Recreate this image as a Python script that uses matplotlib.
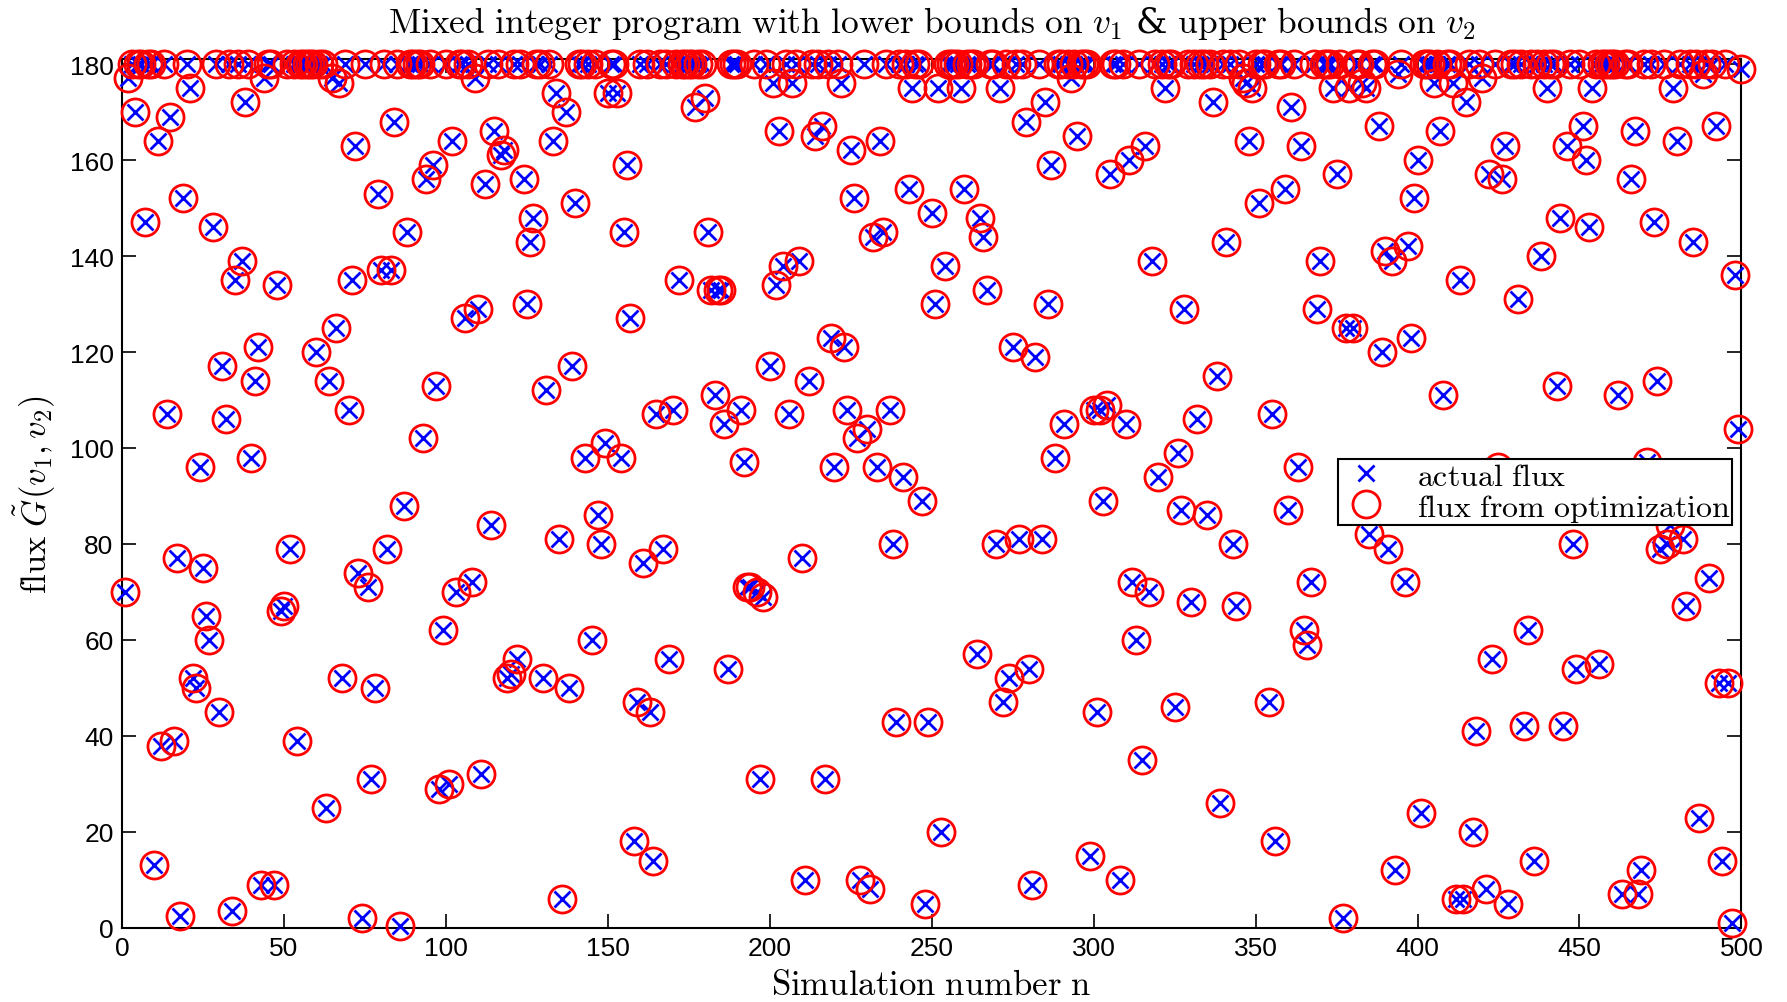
import matplotlib
matplotlib.use("Agg")
import matplotlib.pyplot as plt
import numpy as np

plt.rcParams['mathtext.fontset'] = 'cm'

# Simulation numbers 1..500 and flux values
sim_n = list(range(1, 501))
flux_actual = [
    70, 177, 180, 170, 180, 180, 147, 180, 180, 13,
    164, 38, 180, 107, 169, 39, 77, 2.5, 152, 180,
    175, 52, 50, 96, 75, 65, 60, 146, 180, 45,
    117, 106, 180, 3.5, 135, 180, 139, 172, 180, 98,
    114, 121, 9, 177, 180, 180, 9, 134, 66, 67,
    180, 79, 180, 39, 180, 180, 180, 180, 180, 120,
    180, 180, 25, 114, 177, 125, 176, 52, 180, 108,
    135, 163, 74, 2, 180, 71, 31, 50, 153, 137,
    180, 79, 137, 168, 180, 0.3, 88, 145, 180, 180,
    180, 180, 102, 156, 180, 159, 113, 29, 62, 180,
    30, 164, 70, 180, 180, 127, 180, 72, 177, 129,
    32, 155, 180, 84, 166, 180, 161, 162, 52, 53,
    180, 56, 180, 156, 130, 143, 148, 180, 180, 52,
    112, 180, 164, 174, 81, 6, 170, 50, 117, 151,
    180, 180, 98, 180, 60, 180, 86, 80, 101, 174,
    180, 180, 174, 98, 145, 159, 127, 18, 47, 180,
    76, 180, 45, 14, 107, 180, 79, 180, 56, 108,
    180, 135, 180, 180, 180, 180, 171, 180, 180, 173,
    145, 133, 111, 133, 133, 105, 54, 180, 180, 180,
    108, 97, 71, 71, 180, 70, 31, 69, 180, 117,
    176, 134, 166, 138, 180, 107, 176, 180, 139, 77,
    10, 114, 180, 165, 180, 167, 31, 180, 123, 96,
    180, 176, 121, 108, 162, 152, 102, 10, 180, 104,
    8, 144, 96, 164, 145, 180, 108, 80, 43, 180,
    94, 180, 154, 175, 180, 180, 89, 5, 43, 149,
    130, 175, 20, 138, 180, 180, 180, 180, 175, 154,
    180, 180, 180, 57, 148, 144, 133, 180, 180, 80,
    175, 47, 180, 52, 121, 180, 81, 180, 168, 54,
    9, 119, 180, 81, 172, 130, 159, 98, 180, 180,
    105, 180, 177, 180, 165, 180, 180, 180, 15, 108,
    45, 108, 89, 109, 157, 180, 180, 10, 180, 105,
    160, 72, 60, 180, 35, 163, 70, 139, 180, 94,
    180, 175, 180, 180, 46, 99, 87, 129, 180, 68,
    180, 106, 180, 180, 86, 180, 172, 115, 26, 180,
    143, 180, 80, 67, 180, 177, 176, 164, 175, 180,
    151, 180, 180, 47, 107, 18, 180, 180, 154, 87,
    171, 180, 96, 163, 62, 59, 72, 180, 129, 139,
    180, 180, 180, 175, 157, 180, 2, 125, 175, 125,
    180, 180, 176, 175, 82, 180, 180, 167, 120, 141,
    79, 139, 12, 178, 180, 72, 142, 123, 152, 160,
    24, 180, 180, 180, 176, 180, 166, 111, 180, 180,
    176, 6, 135, 6, 172, 180, 20, 41, 180, 177,
    8, 157, 56, 180, 96, 156, 163, 5, 180, 180,
    131, 180, 42, 62, 180, 14, 180, 140, 180, 175,
    180, 180, 113, 148, 42, 163, 180, 80, 54, 180,
    167, 160, 146, 175, 180, 55, 180, 180, 180, 180,
    180, 111, 7, 180, 180, 156, 166, 7, 12, 180,
    97, 180, 147, 114, 79, 180, 80, 84, 175, 164,
    180, 81, 67, 180, 143, 180, 23, 178, 180, 73,
    180, 167, 51, 14, 180, 51, 1, 136, 104, 179,
]
flux_opt = list(flux_actual)

x_ticks = [0, 50, 100, 150, 200, 250, 300, 350, 400, 450, 500]
y_ticks = [0, 20, 40, 60, 80, 100, 120, 140, 160, 180]

W, H = 1787, 1003
fig = plt.figure(figsize=(W / 100, H / 100), dpi=100)
ax = fig.add_axes([0.0682, 0.0739, 0.9063, 0.8660])

ax.plot(sim_n, flux_actual, linestyle='none', marker='x', color='#0000ff',
        markersize=12, markeredgewidth=2.0, clip_on=False, label='actual flux', zorder=3)
ax.plot(sim_n, flux_opt, linestyle='none', marker='o', markerfacecolor='none',
        markeredgecolor='#ff0000', markersize=19.5, markeredgewidth=2.0, clip_on=False,
        label='flux from optimization', zorder=4)

ax.set_xlim(0, 500)
ax.set_ylim(0, 181)
ax.set_xticks(x_ticks)
ax.set_yticks(y_ticks)
ax.tick_params(direction='in', length=10, width=1.2, top=True, right=True,
               labelsize=19, pad=6)
for lab in ax.get_xticklabels() + ax.get_yticklabels():
    lab.set_family('Liberation Sans')
for sp in ax.spines.values():
    sp.set_linewidth(1.5)

ax.set_title(r'$\mathrm{Mixed\ integer\ program\ with\ lower\ bounds\ on\ }v_1$ & '
             r'$\mathrm{upper\ bounds\ on\ }v_2$',
             fontsize=25.5, pad=20, family='DejaVu Serif')
ax.set_xlabel(r'$\mathrm{Simulation\ number\ n}$', fontsize=25, labelpad=5)
ax.set_ylabel(r'$\mathrm{flux\ }\tilde{G}(v_1,v_2)$', fontsize=25, labelpad=8)

leg = ax.legend(loc='upper right', bbox_to_anchor=(1732 / W, 1 - 460 / H),
                bbox_transform=fig.transFigure, fancybox=False, framealpha=1,
                edgecolor='black', fontsize=23, borderpad=0.05, labelspacing=0.0,
                handletextpad=0.8, handlelength=1.6, borderaxespad=0)
leg.get_frame().set_linewidth(1.5)
for t in leg.get_texts():
    t.set_text(r'$\mathrm{' + t.get_text().replace(' ', r'\ ') + '}$')
leg.set_zorder(10)

fig.savefig('out.png', dpi=100)
